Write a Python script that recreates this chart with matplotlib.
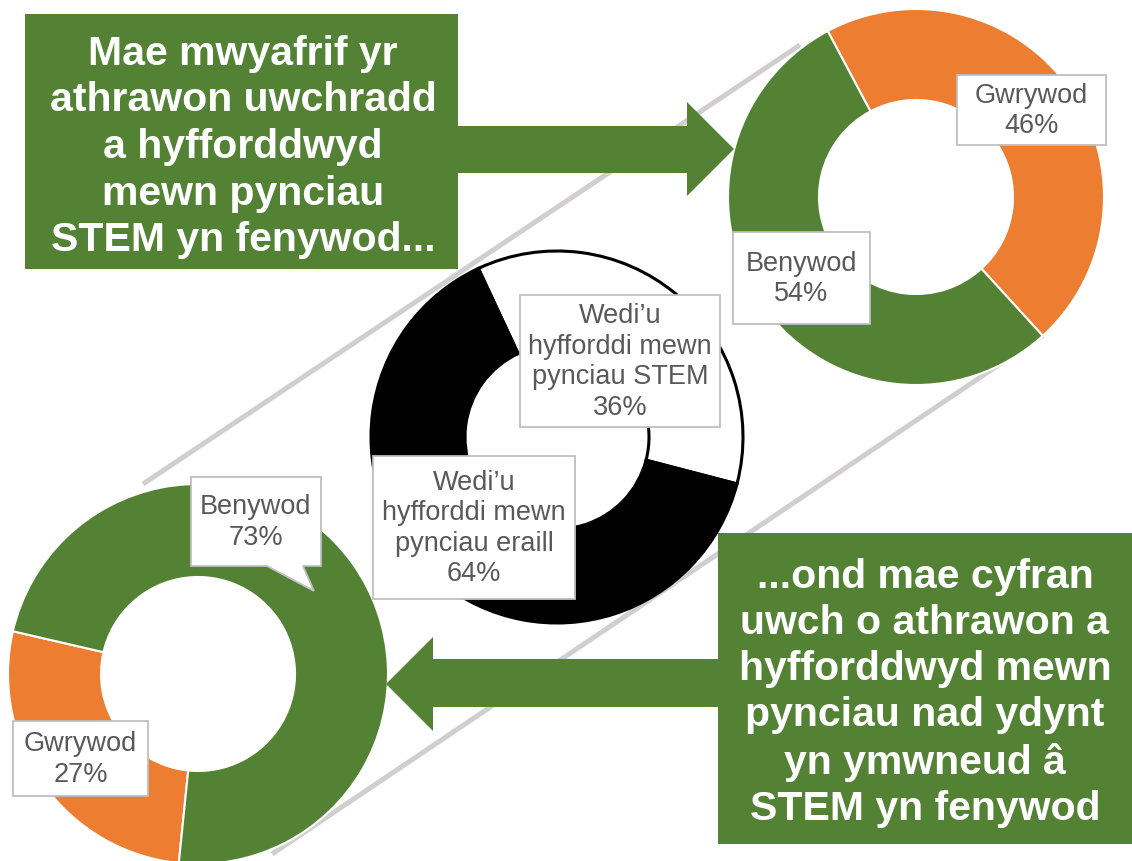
import matplotlib
matplotlib.use('Agg')
import matplotlib.pyplot as plt
from matplotlib.patches import Rectangle, Polygon

# Dimensions de la figure (pixels)
W, H = 1132, 862

GREEN = '#548235'
ORANGE = '#ED7D31'
GREY_LINE = '#d0cece'
LABEL_EDGE = '#bfbfbf'
LABEL_TEXT = '#595959'

# Donnees
top_labels = ['Gwrywod', 'Benywod']
top_values = [46, 54]

mid_labels = ['Wedi\u2019u\nhyfforddi mewn\npynciau STEM',
              'Wedi\u2019u\nhyfforddi mewn\npynciau eraill']
mid_values = [36, 64]

bottom_labels = ['Gwrywod', 'Benywod']
bottom_values = [27, 73]

title_top = 'Mae mwyafrif yr\nathrawon uwchradd\na hyfforddwyd\nmewn pynciau\nSTEM yn fenywod...'
title_bottom = ('...ond mae cyfran\nuwch o athrawon a\nhyfforddwyd mewn\n'
                'pynciau nad ydynt\nyn ymwneud \u00e2\nSTEM yn fenywod')

plt.rcParams['font.family'] = ['Liberation Sans', 'DejaVu Sans']


def fy(y):
    """pixel y (vers le bas) -> coordonnee axe"""
    return H - y


def boite(ax, x0, y0, x1, y1, texte, queue=None):
    """Etiquette blanche a bord gris"""
    pts = [(x0, fy(y0)), (x1, fy(y0))]
    pts += [(x1, fy(y1))]
    if queue is not None:
        xa, xb, xt, yt = queue
        pts += [(xb, fy(y1)), (xt, fy(yt)), (xa, fy(y1))]
    pts += [(x0, fy(y1))]
    ax.add_patch(Polygon(pts, closed=True, facecolor='white', edgecolor=LABEL_EDGE,
                         linewidth=1.3, zorder=5))
    ax.text((x0 + x1) / 2, fy((y0 + y1) / 2), texte, ha='center', va='center',
            fontsize=19.5, color=LABEL_TEXT, linespacing=1.22, zorder=6)


fig = plt.figure(figsize=(W / 100, H / 100), dpi=100)
ax = fig.add_axes([0, 0, 1, 1])

# Bande grise diagonale
ax.plot([143, 800], [fy(485), fy(46)], color=GREY_LINE, lw=3.6,
        solid_capstyle='butt', zorder=0.5)
ax.plot([272, 1043], [fy(855), fy(336)], color=GREY_LINE, lw=3.6,
        solid_capstyle='butt', zorder=0.5)

# Anneau du haut
ax.pie(top_values, colors=[ORANGE, GREEN], radius=188, center=(916, fy(198)),
       startangle=118, counterclock=False,
       wedgeprops=dict(width=91, edgecolor='white', linewidth=1.5))

# Anneau du centre
ax.pie(mid_values, colors=['white', 'black'], radius=186, center=(557, fy(438)),
       startangle=115, counterclock=False,
       wedgeprops=dict(width=94, edgecolor='black', linewidth=2.2))

# Anneau du bas
ax.pie(bottom_values, colors=[ORANGE, GREEN], radius=190, center=(198, fy(675)),
       startangle=167, counterclock=True,
       wedgeprops=dict(width=93, edgecolor='white', linewidth=1.5))

# Encadres verts
ax.add_patch(Rectangle((25, fy(270)), 433, 255, facecolor=GREEN, edgecolor='none', zorder=3))
ax.text(243, fy(147), title_top, ha='center', va='center', color='white',
        fontsize=29.5, fontweight='bold', linespacing=1.29, zorder=4)

ax.add_patch(Rectangle((718, fy(845)), 414, 311, facecolor=GREEN, edgecolor='none', zorder=3))
ax.text(925, fy(693), title_bottom, ha='center', va='center', color='white',
        fontsize=29.5, fontweight='bold', linespacing=1.27, zorder=4)

# Fleches
fleche_haut = [(458, fy(127)), (687, fy(127)), (687, fy(103)), (734, fy(150)),
               (687, fy(197)), (687, fy(174)), (458, fy(174))]
ax.add_patch(Polygon(fleche_haut, closed=True, facecolor=GREEN, edgecolor='none', zorder=3))
fleche_bas = [(718, fy(660)), (433, fy(660)), (433, fy(638)), (386, fy(685)),
              (433, fy(732)), (433, fy(708)), (718, fy(708))]
ax.add_patch(Polygon(fleche_bas, closed=True, facecolor=GREEN, edgecolor='none', zorder=3))

# Etiquettes
boite(ax, 957, 76, 1106, 146, f'{top_labels[0]}\n{top_values[0]}%')
boite(ax, 733, 233, 870, 325, f'{top_labels[1]}\n{top_values[1]}%')
boite(ax, 520, 296, 720, 428, f'{mid_labels[0]}\n{mid_values[0]}%')
boite(ax, 373, 457, 575, 600, f'{mid_labels[1]}\n{mid_values[1]}%')
boite(ax, 191, 478, 321, 567, f'{bottom_labels[1]}\n{bottom_values[1]}%',
      queue=(267, 303, 314, 592))
boite(ax, 13, 722, 148, 797, f'{bottom_labels[0]}\n{bottom_values[0]}%')

ax.set_xlim(0, W)
ax.set_ylim(0, H)
ax.set_aspect('auto')
ax.axis('off')

plt.savefig('out.png', dpi=100)
plt.close()
